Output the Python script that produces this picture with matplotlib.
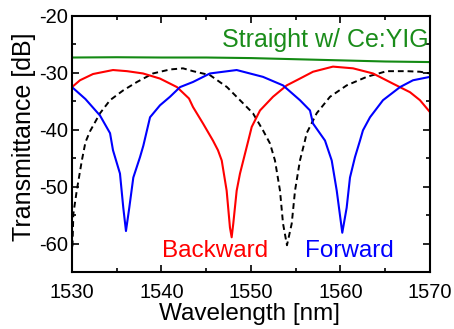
import matplotlib
matplotlib.use("Agg")
import matplotlib.pyplot as plt
from matplotlib.ticker import MultipleLocator

plt.rcParams['font.family'] = ['Liberation Sans', 'DejaVu Sans']
plt.rcParams['axes.unicode_minus'] = False

# Forward (blue)
fwd_wl = [1530.0, 1531.5, 1533.13, 1534.25, 1534.58, 1535.36, 1535.73, 1536.03, 1536.40, 1536.85,
          1537.60, 1537.97, 1538.72, 1539.83, 1540.95, 1542.07, 1543.52, 1545.42, 1548.40,
          1551.34, 1553.58, 1555.47, 1556.59, 1556.93, 1558.27, 1559.02, 1559.58, 1560.20,
          1560.69, 1561.06, 1561.62, 1562.18, 1562.51, 1563.30, 1564.75, 1566.65, 1568.10, 1570.0]
fwd_db = [-32.5, -34.6, -37.5, -40.6, -43.6, -47.7, -53.7, -57.8, -53.7, -48.4,
          -44.8, -42.8, -37.8, -35.7, -34.2, -32.5, -31.6, -30.1, -29.5,
          -30.7, -32.2, -34.8, -36.6, -38.9, -41.9, -45.4, -50.7, -58.1,
          -53.7, -48.4, -44.8, -41.9, -40.1, -37.8, -34.8, -32.5, -31.3, -30.7]

# Backward (red)
bwd_wl = [1530.0, 1530.89, 1532.35, 1534.58, 1536.15, 1537.93, 1539.83, 1541.73, 1543.07,
          1543.52, 1544.64, 1545.75, 1546.31, 1546.73, 1547.28, 1547.65, 1547.84, 1548.02,
          1548.40, 1548.77, 1549.70, 1550.08, 1551.01, 1552.46, 1553.99, 1555.47, 1556.93,
          1559.16, 1561.40, 1563.63, 1565.87, 1567.77, 1568.88, 1570.0]
bwd_db = [-32.5, -31.3, -30.2, -29.5, -29.7, -30.1, -31.0, -32.5, -34.5,
          -36.0, -38.9, -41.9, -43.6, -45.4, -50.7, -57.2, -58.9, -56.5,
          -50.7, -47.7, -41.9, -39.5, -36.6, -34.2, -32.2, -31.0, -29.8,
          -28.9, -29.2, -30.1, -31.9, -33.4, -34.8, -36.9]

# Without Ce:YIG reference (black dashed)
ref_wl = [1530.05, 1530.15, 1530.53, 1531.1, 1531.5, 1532.0, 1533.13, 1534.25, 1535.70,
          1537.26, 1539.05, 1540.95, 1542.40, 1543.52, 1545.42, 1547.32, 1548.77, 1550.22,
          1551.34, 1552.12, 1552.68, 1553.24, 1553.58, 1554.02, 1554.55, 1554.92, 1555.47,
          1556.03, 1556.22, 1557.34, 1558.83, 1560.69, 1562.93, 1565.16, 1567.40, 1568.88, 1570.0]
ref_db = [-60.5, -54.8, -50.7, -45.4, -42.2, -40.3, -37.1, -34.8, -33.1,
          -31.6, -30.1, -29.4, -29.2, -29.7, -30.4, -32.5, -34.8, -37.1,
          -40.1, -42.4, -45.4, -50.7, -56.5, -60.3, -56.5, -50.7, -45.4,
          -41.9, -40.6, -37.1, -34.2, -32.2, -30.7, -29.7, -29.7, -29.8, -30.1]

# Straight waveguide (green)
str_wl = [1530, 1535, 1540, 1545, 1550, 1555, 1560, 1565, 1570]
str_db = [-27.3, -27.25, -27.3, -27.3, -27.4, -27.6, -27.8, -28.0, -28.1]

fig = plt.figure(figsize=(4.54, 3.29), dpi=100)
ax = fig.add_axes([0.1586, 0.1733, 0.7885, 0.7781])

ax.plot(str_wl, str_db, color='#138a13', lw=1.5)
ax.plot(ref_wl, ref_db, color='black', lw=1.4, linestyle=(0, (3, 2)))
ax.plot(bwd_wl, bwd_db, color='#ff0000', lw=1.5)
ax.plot(fwd_wl, fwd_db, color='#0000ff', lw=1.5)

ax.text(1569.8, -24.2, 'Straight w/ Ce:YIG', color='#1a8c1a', fontsize=18,
        ha='right', va='center')
ax.text(1540.1, -61.3, 'Backward', color='#ff0000', fontsize=17.5, ha='left', va='center')
ax.text(1556.0, -61.3, 'Forward', color='#0000ff', fontsize=17.5, ha='left', va='center')

ax.set_xlim(1530, 1570)
ax.set_ylim(-65, -20)
ax.xaxis.set_major_locator(MultipleLocator(10))
ax.xaxis.set_minor_locator(MultipleLocator(5))
ax.yaxis.set_major_locator(MultipleLocator(10))
ax.yaxis.set_minor_locator(MultipleLocator(5))
ax.tick_params(which='both', direction='in', top=True, right=True, width=1.2,
               labelsize=14.5)
ax.tick_params(axis='x', which='both', pad=8)
ax.tick_params(axis='y', which='both', pad=3)
ax.tick_params(which='major', length=5)
ax.tick_params(which='minor', length=3)
for s in ax.spines.values():
    s.set_linewidth(1.5)

# reference crops the label at the bottom; keep it just inside the canvas
ax.set_xlabel('Wavelength [nm]', fontsize=17.5)
ax.set_ylabel('Transmittance [dB]', fontsize=18)
ax.xaxis.set_label_coords(0.497, -0.122)
ax.yaxis.set_label_coords(-0.1, 0.53)

fig.savefig('out.png', dpi=100)
